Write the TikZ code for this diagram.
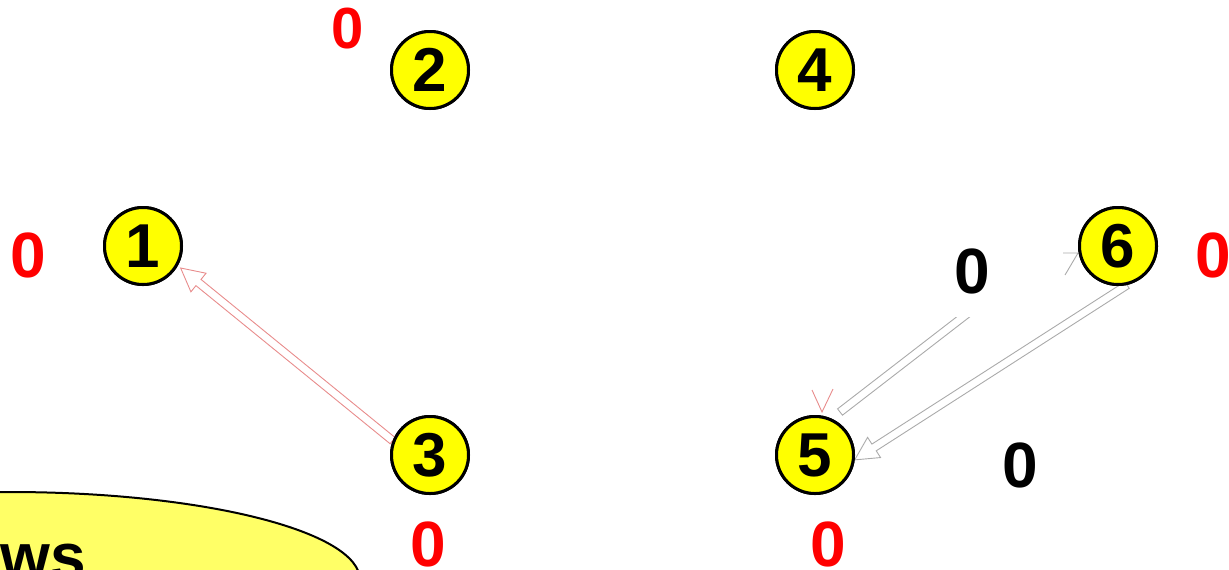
\documentclass[tikz,border=0pt]{standalone}
\usepackage{fontspec}
\setmainfont{Liberation Sans}
\usetikzlibrary{calc}
\definecolor{nodeyellow}{RGB}{255,255,0}
\definecolor{ellyellow}{RGB}{255,255,102}
\definecolor{arrowpink}{RGB}{232,140,140}
\definecolor{arrowgray}{RGB}{170,170,170}
% #1 start, #2 end, #3 colour : hollow block arrow
\newcommand{\hollowarrow}[3]{%
  \coordinate (ha-c) at ($(#2)!11.5pt!(#1)$);
  \draw[#3, line width=0.45pt, line join=miter]
    ($(#1)!2pt!90:(#2)$) -- ($(ha-c)!2pt!90:(#2)$) -- ($(ha-c)!6pt!90:(#2)$)
    -- (#2) -- ($(ha-c)!6pt!-90:(#2)$) -- ($(ha-c)!2pt!-90:(#2)$)
    -- ($(#1)!2pt!-90:(#2)$) -- cycle;}
\begin{document}
\begin{tikzpicture}[x=0.5pt,y=-0.5pt,
  vertex/.style={circle, draw=black, line width=1.5pt, fill=nodeyellow,
    minimum size=38.5pt, inner sep=0pt, font=\fontsize{31}{33}\selectfont\bfseries},
  redlabel/.style={text=red, inner sep=0pt, font=\fontsize{32}{34}\selectfont\bfseries},
  blacklabel/.style={text=black, inner sep=0pt, font=\fontsize{32}{34}\selectfont\bfseries},
  thinv/.style={line width=0.45pt}]
\useasboundingbox (0,0) rectangle (1229,569);
\clip (0,0) rectangle (1229,569);

% vertex positions
\path (143,246) coordinate (p1) (430,70) coordinate (p2) (430,455) coordinate (p3)
      (815,70) coordinate (p4) (815,455) coordinate (p5) (1118,246) coordinate (p6);
\node[vertex] (n1) at (p1) {1};
\node[vertex] (n2) at (p2) {2};
\node[vertex] (n3) at (p3) {3};
\node[vertex] (n4) at (p4) {4};
\node[vertex] (n5) at (p5) {5};
\node[vertex] (n6) at (p6) {6};

% arrows
\coordinate (a31s) at (n3.159);
\coordinate (a31e) at ($(n1.-30)+(3,2)$);
\hollowarrow{a31s}{a31e}{arrowpink}
\coordinate (a65s) at (n6.-77);
\coordinate (a65e) at (n5.-7);
\hollowarrow{a65s}{a65e}{arrowgray}
% shaft from the label 0 towards 5 (head hidden)
\coordinate (bt) at (985,300);
\coordinate (bh) at (840,412);
\draw[arrowgray, line width=0.45pt]
  ($(bt)!2pt!90:(bh)$) -- ($(bh)!2pt!-90:(bt)$) -- ($(bh)!2pt!90:(bt)$) -- ($(bt)!2pt!-90:(bh)$);
% small open heads
\coordinate (rv) at (822,412);
\draw[arrowpink, thinv] (812,390) -- (rv) -- (833,389);
\coordinate (gv) at (1078,253);
\draw[arrowgray, thinv] (1063,253) -- (gv) -- (1065,275);

% white label box and black zeros
\node[fill=white, minimum width=117.5pt, minimum height=48.5pt, inner sep=0pt] (wbox) at (944.5,268.5) {};
\node[blacklabel] (b1) at (972,271) {0};
\node[blacklabel] (b2) at (1020,465) {0};

% vertices on top of the connectors
\node[vertex] at (p1) {1};
\node[vertex] at (p2) {2};
\node[vertex] at (p3) {3};
\node[vertex] at (p4) {4};
\node[vertex] at (p5) {5};
\node[vertex] at (p6) {6};

% red labels
\node[redlabel] (r1) at (28,255) {0};
\node[redlabel, font=\fontsize{29}{31}\selectfont\bfseries] (r2) at (348,29) {0};
\node[redlabel] (r3) at (428,544) {0};
\node[redlabel] (r5) at (828,544) {0};
\node[redlabel] (r6) at (1213,255) {0};

% bottom-left ellipse
\draw[fill=ellyellow, line width=1pt] (10,580) ellipse [x radius=175pt, y radius=44pt];
\node[anchor=base east, inner sep=0pt, font=\fontsize{32}{34}\selectfont\bfseries] (ws) at (86,578) {ws};
\end{tikzpicture}
\end{document}
